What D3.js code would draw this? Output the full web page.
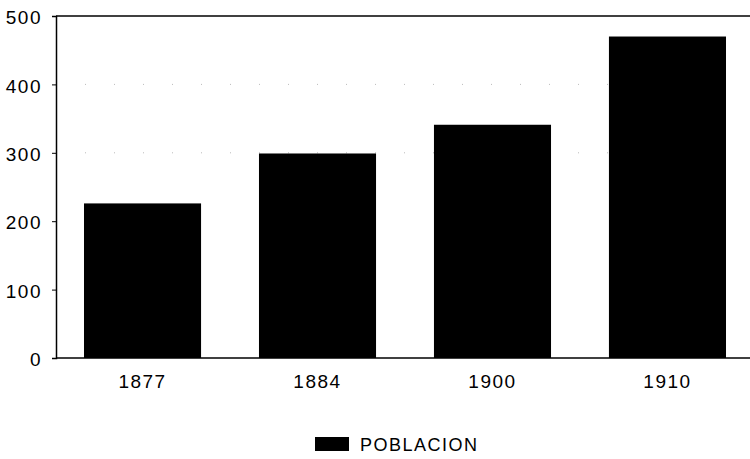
<!DOCTYPE html>
<html><head><meta charset="utf-8">
<script src="https://cdn.jsdelivr.net/npm/d3@7"></script>
<style>body{margin:0;background:#fff}svg{display:block}text{font-family:"Liberation Sans",Arial,sans-serif;fill:#000}</style>
</head><body>
<script>
const categories = ["1877","1884","1900","1910"];
const values = [226, 299, 341, 470];
const yTicks = [0,100,200,300,400,500];
const seriesName = "POBLACION";

(function(){
const W=750,H=459;
const svg=d3.select("body").append("svg").attr("width",W).attr("height",H);
const mLeft=56, mTop=16, mBottom=358, mRight=750;
const x=d3.scaleBand().domain(categories).range([mLeft,754]).paddingInner(0.331).paddingOuter(0.16);
const y=d3.scaleLinear().domain([0,500]).range([mBottom,mTop]);

svg.append("g").selectAll("line").data([300,400]).join("line")
  .attr("x1",mLeft).attr("x2",mRight).attr("y1",d=>y(d)).attr("y2",d=>y(d))
  .attr("stroke","#bbb").attr("stroke-width",1).attr("stroke-dasharray","1,28");

svg.append("g").selectAll("rect").data(values).join("rect")
  .attr("x",(d,i)=>x(categories[i])).attr("width",x.bandwidth())
  .attr("y",d=>y(d)).attr("height",d=>mBottom-y(d)).attr("fill","#000");

const ya=svg.append("g").attr("transform",`translate(${mLeft},0)`)
  .call(d3.axisLeft(y).tickValues(yTicks).tickSize(4).tickPadding(10));
ya.select(".domain").attr("stroke","#000").attr("stroke-width",1.5);
ya.selectAll(".tick line").attr("stroke","#000");
ya.selectAll(".tick text").attr("font-size",19).attr("letter-spacing","1.5px").attr("dy","0.4em")
  .attr("font-family","Liberation Sans, Arial, sans-serif");

svg.append("line").attr("x1",mLeft).attr("x2",mRight).attr("y1",mBottom).attr("y2",mBottom).attr("stroke","#000").attr("stroke-width",1.5);
svg.append("line").attr("x1",mLeft).attr("x2",mRight).attr("y1",mTop).attr("y2",mTop).attr("stroke","#000").attr("stroke-width",1.5);

const xa=svg.append("g").attr("transform",`translate(0,${mBottom})`)
  .call(d3.axisBottom(x).tickSize(0).tickPadding(17));
xa.select(".domain").remove();
xa.selectAll(".tick text").attr("font-size",19).attr("letter-spacing","1.5px")
  .attr("font-family","Liberation Sans, Arial, sans-serif");

const lg=svg.append("g");
lg.append("rect").attr("x",315).attr("y",437).attr("width",34).attr("height",14).attr("fill","#000");
lg.append("text").attr("x",360).attr("y",451).attr("font-size",18).attr("letter-spacing","1.5px").text(seriesName);
})();
</script>
</body></html>
